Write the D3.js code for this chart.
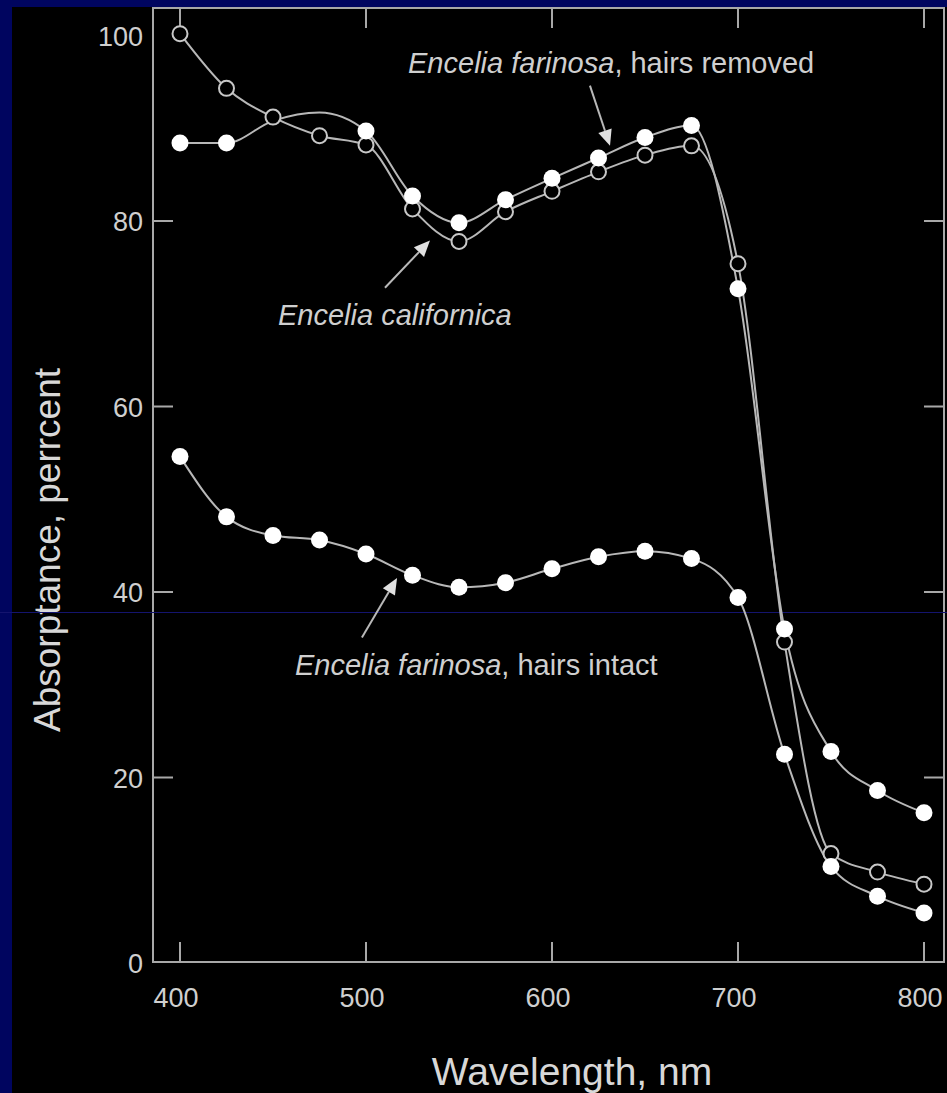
<!DOCTYPE html>
<html>
<head>
<meta charset="utf-8">
<script src="https://cdn.jsdelivr.net/npm/d3@7"></script>
<style>
  html, body { margin: 0; padding: 0; background: #00055f; }
  svg { display: block; }
  text { font-family: "Liberation Sans", Arial, sans-serif; }
</style>
</head>
<body>
<div class="vis-chart"></div>
<script>
// wavelength, nm
const wavelengths = [400, 425, 450, 475, 500, 525, 550, 575, 600, 625, 650, 675, 700, 725, 750, 775, 800];

// Encelia farinosa, hairs removed (filled); 450 & 475, no marker drawn
const hairsRemoved = [88.4, 88.4, 90.8, 91.7, 89.7, 82.7, 79.8, 82.3, 84.6, 86.8, 89.0, 90.3, 72.7, 36.0, 22.8, 18.6, 16.2];
const hairsRemovedMarked = [1, 1, 0, 0, 1, 1, 1, 1, 1, 1, 1, 1, 1, 1, 1, 1, 1];

// Encelia californica (open)
const californica = [100.2, 94.3, 91.2, 89.2, 88.2, 81.3, 77.8, 81.0, 83.2, 85.3, 87.1, 88.1, 75.4, 34.6, 11.8, 9.8, 8.5];

// Encelia farinosa, hairs intact (filled)
const hairsIntact = [54.6, 48.1, 46.1, 45.6, 44.1, 41.8, 40.5, 41.0, 42.5, 43.8, 44.4, 43.6, 39.4, 22.5, 10.4, 7.2, 5.4];

const xTicks = [400, 500, 600, 700, 800];
const yTicks = [0, 20, 40, 60, 80, 100];

// annotation positions in data units: [wavelength, percent]
const labels = [
  { at: [522.6, 96.0], italic: "Encelia farinosa", rest: ", hairs removed", tail: [620.4, 94.6], tip: [631.2, 88.1] },
  { at: [452.7, 68.75], italic: "Encelia californica", rest: "", tail: [510.2, 72.8], tip: [534.4, 77.9] },
  { at: [461.8, 31.0], italic: "Encelia farinosa", rest: ", hairs intact", tail: [497.8, 35.1], tip: [516.7, 41.5] }
];

const W = 947, H = 1093;
const frame = { left: 153, top: 8, right: 944, bottom: 962 };

const svg = d3.select(".vis-chart")
  .append("svg")
  .attr("width", W)
  .attr("height", H);

// black panel inside the blue border
svg.append("rect")
  .attr("x", 12).attr("y", 7)
  .attr("width", W - 12).attr("height", H - 7)
  .attr("fill", "#000");

let x = d3.scaleLinear().domain([400, 800]).range([180, 924]);
let y = d3.scaleLinear().domain([0, 100]).range([963, 35.5]);

const axisColor = "#a8a8a8";
const lineColor = "#b8b8b8";
const textColor = "#cfcfcf";

// frame
svg.append("rect")
  .attr("x", frame.left).attr("y", frame.top)
  .attr("width", frame.right - frame.left)
  .attr("height", frame.bottom - frame.top)
  .attr("fill", "none")
  .attr("stroke", axisColor)
  .attr("stroke-width", 2);

// x ticks, bottom and top, pointing inward
xTicks.forEach(function (t) {
  svg.append("line")
    .attr("x1", x(t)).attr("x2", x(t))
    .attr("y1", frame.bottom).attr("y2", frame.bottom - 20)
    .attr("stroke", axisColor).attr("stroke-width", 2);
  svg.append("line")
    .attr("x1", x(t)).attr("x2", x(t))
    .attr("y1", frame.top).attr("y2", frame.top + 20)
    .attr("stroke", axisColor).attr("stroke-width", 2);
});

svg.selectAll(".xlab")
  .data(xTicks)
  .enter()
  .append("text")
  .attr("class", "xlab")
  .attr("x", function (d) { return x(d) - 4; })
  .attr("y", 1007)
  .attr("text-anchor", "middle")
  .attr("font-size", 27)
  .attr("fill", textColor)
  .text(function (d) { return d; });

// y ticks left & right (not at 0 / 100)
yTicks.filter(function (t) { return t > 0 && t < 100; }).forEach(function (t) {
  svg.append("line")
    .attr("x1", frame.left).attr("x2", frame.left + 20)
    .attr("y1", y(t)).attr("y2", y(t))
    .attr("stroke", axisColor).attr("stroke-width", 2);
  svg.append("line")
    .attr("x1", frame.right).attr("x2", frame.right - 20)
    .attr("y1", y(t)).attr("y2", y(t))
    .attr("stroke", axisColor).attr("stroke-width", 2);
});

svg.selectAll(".ylab")
  .data(yTicks)
  .enter()
  .append("text")
  .attr("class", "ylab")
  .attr("x", 143)
  .attr("y", function (d) { return y(d) + 10; })
  .attr("text-anchor", "end")
  .attr("font-size", 27)
  .attr("fill", textColor)
  .text(function (d) { return d; });

// axis titles
svg.append("text")
  .attr("transform", "translate(60,550) rotate(-90)")
  .attr("text-anchor", "middle")
  .attr("font-size", 37)
  .attr("fill", "#d8d8d8")
  .text("Absorptance, perrcent");

svg.append("text")
  .attr("x", 572)
  .attr("y", 1085)
  .attr("text-anchor", "middle")
  .attr("font-size", 39)
  .attr("fill", "#d8d8d8")
  .text("Wavelength, nm");

// scan artefact line
svg.append("line")
  .attr("x1", 0).attr("x2", W)
  .attr("y1", 612.5).attr("y2", 612.5)
  .attr("stroke", "#14146e").attr("stroke-width", 1);

// curves
const line = d3.line()
  .x(function (d) { return x(d.w); })
  .y(function (d) { return y(d.v); })
  .curve(d3.curveMonotoneX);

function series(vals) {
  return wavelengths.map(function (w, i) { return { w: w, v: vals[i] }; });
}

[hairsIntact, californica, hairsRemoved].forEach(function (vals) {
  svg.append("path")
    .datum(series(vals))
    .attr("fill", "none")
    .attr("stroke", lineColor)
    .attr("stroke-width", 2)
    .attr("d", line);
});

// markers
svg.append("g")
  .selectAll("circle")
  .data(series(californica))
  .enter()
  .append("circle")
  .attr("cx", function (d) { return x(d.w); })
  .attr("cy", function (d) { return y(d.v); })
  .attr("r", 7.5)
  .attr("fill", "#000")
  .attr("stroke", "#c8c8c8")
  .attr("stroke-width", 2);

svg.append("g")
  .selectAll("circle")
  .data(series(hairsRemoved).filter(function (d, i) { return hairsRemovedMarked[i]; }))
  .enter()
  .append("circle")
  .attr("cx", function (d) { return x(d.w); })
  .attr("cy", function (d) { return y(d.v); })
  .attr("r", 8.5)
  .attr("fill", "#fff");

svg.append("g")
  .selectAll("circle")
  .data(series(hairsIntact))
  .enter()
  .append("circle")
  .attr("cx", function (d) { return x(d.w); })
  .attr("cy", function (d) { return y(d.v); })
  .attr("r", 8.5)
  .attr("fill", "#fff");

// annotations
labels.forEach(function (l) {
  let t = svg.append("text")
    .attr("x", x(l.at[0]))
    .attr("y", y(l.at[1]))
    .attr("font-size", 29)
    .attr("fill", textColor);
  t.append("tspan").attr("font-style", "italic").text(l.italic);
  if (l.rest) t.append("tspan").text(l.rest);

  let x0 = x(l.tail[0]), y0 = y(l.tail[1]);
  let x1 = x(l.tip[0]), y1 = y(l.tip[1]);
  let ang = Math.atan2(y1 - y0, x1 - x0);
  let len = 16, half = 7;
  let bx = x1 - len * Math.cos(ang), by = y1 - len * Math.sin(ang);
  svg.append("line")
    .attr("x1", x0).attr("y1", y0)
    .attr("x2", bx).attr("y2", by)
    .attr("stroke", lineColor).attr("stroke-width", 2);
  svg.append("path")
    .attr("d", "M" + x1 + "," + y1 +
      "L" + (bx + half * Math.sin(ang)) + "," + (by - half * Math.cos(ang)) +
      "L" + (bx - half * Math.sin(ang)) + "," + (by + half * Math.cos(ang)) + "Z")
    .attr("fill", "#e0e0e0");
});
</script>
</body>
</html>
